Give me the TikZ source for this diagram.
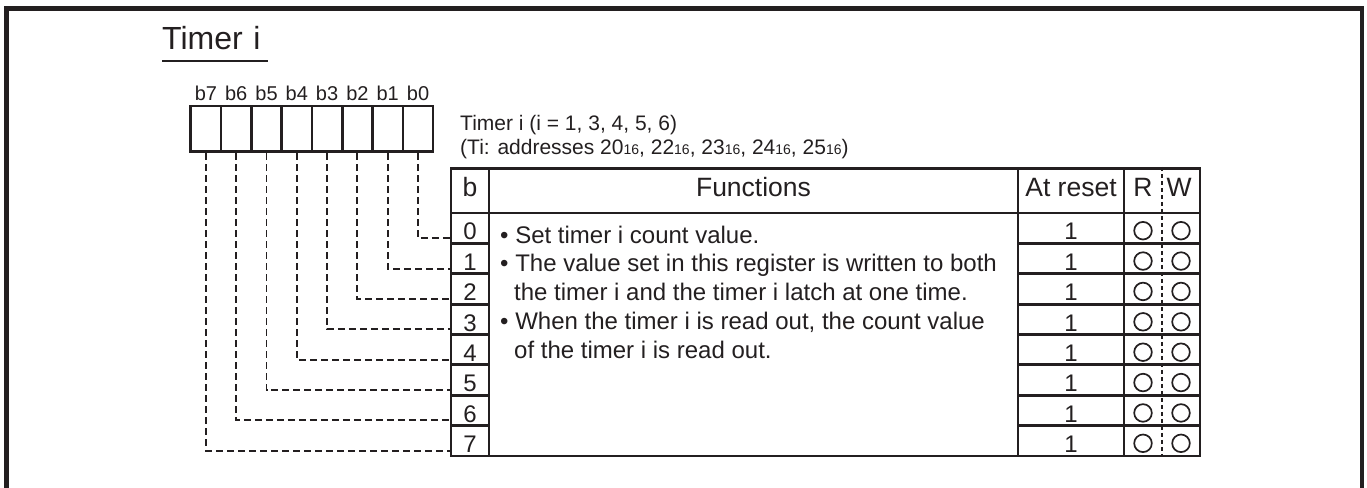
\documentclass[tikz,border=0pt]{standalone}
\usepackage{fontspec}
\setmainfont{Liberation Sans}
\usetikzlibrary{positioning, calc}
\definecolor{ink}{HTML}{231F20}
\newcommand{\hexsub}[1]{{\fontsize{14}{14}\selectfont #1}}

\begin{document}
\begin{tikzpicture}[
    x=1pt, y=-1pt,
    font=\fontsize{24}{29}\selectfont,
    color=ink,
    cell/.style={draw, line width=2.6pt, minimum width=30.3pt, minimum height=45.7pt, inner sep=0pt},
    bitlbl/.style={font=\fontsize{20}{20}\selectfont, inner sep=0pt, text depth=0pt},
    tcell/.style={draw, line width=2.8pt, inner sep=0pt, minimum height=30.375pt, text height=23.6pt, text depth=0pt},
    hcell/.style={tcell, minimum height=44.7pt, text height=12pt, font=\fontsize{26.5}{30}\selectfont},
    rwmark/.style={draw, circle, line width=1.7pt, minimum size=17.6pt, inner sep=0pt},
    link/.style={line width=1.9pt, dash pattern=on 7pt off 4pt},
    divider/.style={line width=1.4pt, dash pattern=on 4pt off 3pt},
    fnline/.style={anchor=base west, inner sep=0pt},
    frame/.style={line width=4.5pt}
]
\useasboundingbox (0,0) rectangle (1367,487);

% ===== FRAME =====
\draw[frame] (6.5,490) -- (6.5,8.5) -- (1362,8.5) -- (1362,490);

% ===== TITLE =====
\node[anchor=base west, font=\fontsize{32}{32}\selectfont, text width=106pt, align=left,
      inner xsep=0pt, inner ysep=10.7pt, text depth=0pt] (title) at (162,50) {Timer i};
\draw[line width=1.3pt] (title.south west) -- (title.south east);

% ===== REGISTER =====
\foreach \k in {0,...,7} {
  \node[cell] (bit\k) at ({205.9+30.3*(7-\k)}, 128.85) {};
  \node[bitlbl, above=4.3pt of bit\k] (lbl\k) {b\k};
}

% Register description
\node[fnline, font=\fontsize{21}{21}\selectfont] (info1) at (460,130) {Timer i (i = 1, 3, 4, 5, 6)};
\node[fnline, font=\fontsize{21}{21}\selectfont] (info2) at (460,154)
  {(Ti: addresses 20\hexsub{16}, 22\hexsub{16}, 23\hexsub{16}, 24\hexsub{16}, 25\hexsub{16})};

% ===== TABLE HEADER =====
\node[hcell, minimum width=38pt] (hb) at (470,190.65) {b};
\node[hcell, minimum width=529pt] (hfun) at (753.5,190.65) {Functions};
\node[hcell, minimum width=106pt] (hrst) at (1071,190.65) {At reset};
\node[hcell, minimum width=76pt] (hrw) at (1162,190.65) {};
\node[hcell, draw=none] (hr) at (1143,190.65) {R};
\node[hcell, draw=none] (hw) at (1179,190.65) {W};

% ===== TABLE ROWS =====
\node[draw, line width=2.8pt, minimum width=529pt, minimum height=243pt, inner sep=0pt] (fbody) at (753.5,334.5) {};

\foreach \k in {0,...,7} {
  \pgfmathsetmacro\yk{213+30.375*(\k+0.5)}
  \node[tcell, minimum width=38pt] (row\k) at (470,\yk) {\k};
  \node[tcell, minimum width=106pt] (rst\k) at (1071,\yk) {1};
  \node[tcell, minimum width=76pt] (rw\k) at (1162,\yk) {};
  \node[rwmark, yshift=-2.5pt] (rd\k) at (1143,\yk) {};
  \node[rwmark, yshift=-2.5pt] (wr\k) at (1181,\yk) {};
  % bit to row
  \draw[link] (bit\k.south) |- ([yshift=-10pt]row\k.west);
}

% R/W split
\draw[divider] (hrw.north) -- (rw7.south);

% Functions text
\node[fnline] (fn1) at (500,243) {• Set timer i count value.};
\node[fnline] (fn2) at (500,271.9) {• The value set in this register is written to both};
\node[fnline] (fn3) at (514,300.8) {the timer i and the timer i latch at one time.};
\node[fnline] (fn4) at (500,329.7) {• When the timer i is read out, the count value};
\node[fnline] (fn5) at (514,358.6) {of the timer i is read out.};

\end{tikzpicture}
\end{document}
